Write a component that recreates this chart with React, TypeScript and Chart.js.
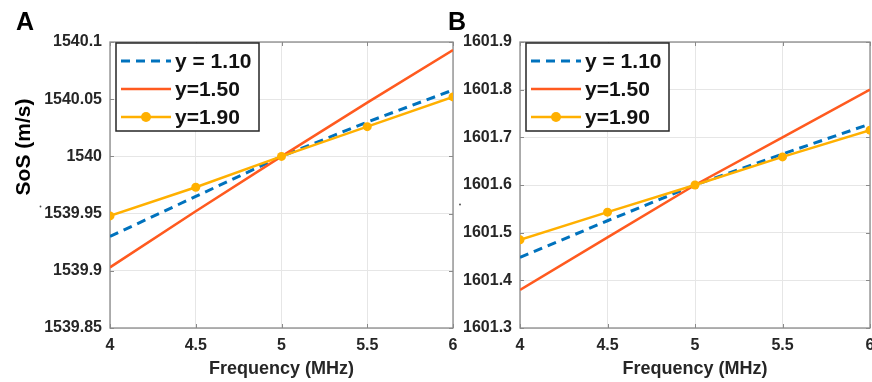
import React, { useEffect, useRef } from "react";
import { Chart, registerables } from "chart.js";

Chart.register(...registerables);

// ---------- data ----------
const freqs = [4, 4.5, 5, 5.5, 6];
const seriesLabels = ["y = 1.10", "y=1.50", "y=1.90"];

const sosA_y110 = [1539.93, 1539.965, 1540.0, 1540.03, 1540.058];
const sosA_y150 = [1539.903, 1539.952, 1540.0, 1540.047, 1540.093];
const sosA_y190 = [1539.948, 1539.973, 1540.0, 1540.026, 1540.052];

const sosB_y110 = [1601.448, 1601.525, 1601.6, 1601.665, 1601.728];
const sosB_y150 = [1601.38, 1601.49, 1601.6, 1601.7, 1601.8];
const sosB_y190 = [1601.485, 1601.543, 1601.6, 1601.659, 1601.715];

const xTitle = "Frequency (MHz)";
const yTitle = "SoS (m/s)";

const COLORS = ["#0072BD", "#FF5A1F", "#FFB000"];
const AXIS = "#8a8a8a";
const GRID = "#e6e6e6";
const TEXT = "#262626";
const FONT = "'Liberation Sans', Arial, Helvetica, sans-serif";

type PanelCfg = {
  letter: string;
  series: number[][];
  yMin: number;
  yMax: number;
  yStep: number;
  left: number;
  width: number;
  yAxisWidth: number;
  padRight: number;
  letterX: number;
  showYTitle: boolean;
  dotX: number;
  dotY: number;
};

const panelPlugin = (cfg: PanelCfg) => ({
  id: "panelDeco" + cfg.letter,
  beforeDatasetsDraw(chart: any) {
    const { ctx, chartArea: ca, scales } = chart;
    ctx.save();
    ctx.strokeStyle = AXIS;
    ctx.lineWidth = 1;
    const tl = 4;
    scales.x.ticks.forEach((t: any) => {
      const px = Math.round(scales.x.getPixelForValue(t.value)) + 0.5;
      ctx.beginPath();
      ctx.moveTo(px, ca.bottom);
      ctx.lineTo(px, ca.bottom - tl);
      ctx.moveTo(px, ca.top);
      ctx.lineTo(px, ca.top + tl);
      ctx.stroke();
    });
    scales.y.ticks.forEach((t: any) => {
      const py = Math.round(scales.y.getPixelForValue(t.value)) + 0.5;
      ctx.beginPath();
      ctx.moveTo(ca.left, py);
      ctx.lineTo(ca.left + tl, py);
      ctx.moveTo(ca.right, py);
      ctx.lineTo(ca.right - tl, py);
      ctx.stroke();
    });
    ctx.lineWidth = 1.3;
    ctx.strokeRect(ca.left, ca.top, ca.right - ca.left, ca.bottom - ca.top);
    ctx.restore();
  },
  afterDraw(chart: any) {
    const { ctx, chartArea: ca } = chart;
    ctx.save();
    ctx.fillStyle = "#000";
    ctx.font = `bold 25px ${FONT}`;
    ctx.textAlign = "left";
    ctx.textBaseline = "alphabetic";
    ctx.fillText(cfg.letter, cfg.letterX, 30);
    ctx.fillStyle = TEXT;
    ctx.font = `bold 18px ${FONT}`;
    ctx.textAlign = "center";
    ctx.fillText(xTitle, (ca.left + ca.right) / 2, 374);
    if (cfg.showYTitle) {
      ctx.save();
      ctx.translate(24, 147);
      ctx.rotate(-Math.PI / 2);
      ctx.font = `bold 21px ${FONT}`;
      ctx.fillStyle = "#000";
      ctx.textAlign = "center";
      ctx.textBaseline = "middle";
      ctx.fillText(yTitle, 0, 0);
      ctx.restore();
    }
    ctx.fillStyle = "#444";
    ctx.beginPath();
    ctx.arc(cfg.dotX, cfg.dotY, 0.9, 0, Math.PI * 2);
    ctx.fill();

    const bx = ca.left + 6;
    const by = ca.top + 1;
    const bw = 143;
    const bh = 88;
    ctx.fillStyle = "#fff";
    ctx.fillRect(bx, by, bw, bh);
    ctx.strokeStyle = "#262626";
    ctx.lineWidth = 1.5;
    ctx.strokeRect(bx, by, bw, bh);
    const rows = [18, 46, 74];
    chart.data.datasets.forEach((ds: any, i: number) => {
      const yy = by + rows[i];
      ctx.save();
      ctx.strokeStyle = ds.borderColor;
      ctx.lineWidth = ds.borderWidth;
      ctx.setLineDash(ds.borderDash || []);
      ctx.beginPath();
      ctx.moveTo(bx + 5, yy);
      ctx.lineTo(bx + 55, yy);
      ctx.stroke();
      ctx.restore();
      if (ds.pointRadius > 0) {
        ctx.fillStyle = ds.pointBackgroundColor;
        ctx.beginPath();
        ctx.arc(bx + 30, yy, 5, 0, Math.PI * 2);
        ctx.fill();
      }
      ctx.fillStyle = "#111";
      ctx.font = `bold 21px ${FONT}`;
      ctx.textAlign = "left";
      ctx.textBaseline = "middle";
      ctx.fillText(ds.label, bx + 59, yy + 1);
    });
    ctx.restore();
  },
});

function Panel({ cfg }: { cfg: PanelCfg }) {
  const ref = useRef<HTMLCanvasElement>(null);
  useEffect(() => {
    if (!ref.current) return;
    const dash = [[9, 6], [], []];
    const datasets = cfg.series.map((s, i) => ({
      label: seriesLabels[i],
      data: freqs.map((f, j) => ({ x: f, y: s[j] })),
      borderColor: COLORS[i],
      backgroundColor: COLORS[i],
      borderWidth: i === 0 ? 3 : 2.5,
      borderDash: dash[i],
      pointRadius: i === 2 ? 4.5 : 0,
      pointBackgroundColor: COLORS[i],
      pointBorderWidth: 0,
      tension: 0,
      order: 3 - i,
    }));
    const chart = new Chart(ref.current, {
      type: "line",
      data: { datasets },
      options: {
        animation: false,
        responsive: false,
        devicePixelRatio: 1,
        layout: { padding: { left: 0, right: cfg.padRight, top: 42, bottom: 0 } },
        plugins: { legend: { display: false }, tooltip: { enabled: false } },
        scales: {
          x: {
            type: "linear",
            min: 4,
            max: 6,
            ticks: {
              stepSize: 0.5,
              padding: 8,
              color: TEXT,
              font: { family: FONT, size: 16, weight: "bold" },
              callback: (v: any) => String(Number(Number(v).toFixed(2))),
              maxRotation: 0,
            },
            grid: { color: GRID, drawTicks: false, tickLength: 0 },
            border: { display: false },
            afterFit: (a: any) => {
              a.height = 54;
              a.paddingLeft = 0;
              a.paddingRight = 0;
            },
          },
          y: {
            type: "linear",
            min: cfg.yMin,
            max: cfg.yMax,
            ticks: {
              stepSize: cfg.yStep,
              padding: 8,
              color: TEXT,
              font: { family: FONT, size: 16, weight: "bold" },
              callback: (v: any) => String(Number(Number(v).toFixed(3))),
            },
            grid: { color: GRID, drawTicks: false, tickLength: 0 },
            border: { display: false },
            afterFit: (a: any) => {
              a.width = cfg.yAxisWidth;
              a.paddingTop = 0;
              a.paddingBottom = 0;
            },
          },
        },
      } as any,
      plugins: [panelPlugin(cfg)],
    });
    return () => chart.destroy();
  }, []);
  return (
    <canvas
      ref={ref}
      width={cfg.width}
      height={382}
      style={{ position: "absolute", left: cfg.left, top: 0, width: cfg.width, height: 382 }}
    />
  );
}

const panelA: PanelCfg = {
  letter: "A",
  series: [sosA_y110, sosA_y150, sosA_y190],
  yMin: 1539.85,
  yMax: 1540.1,
  yStep: 0.05,
  left: 0,
  width: 460,
  yAxisWidth: 110,
  padRight: 7,
  letterX: 16,
  showYTitle: true,
  dotX: 40.5,
  dotY: 206.5,
};

const panelB: PanelCfg = {
  letter: "B",
  series: [sosB_y110, sosB_y150, sosB_y190],
  yMin: 1601.3,
  yMax: 1601.9,
  yStep: 0.1,
  left: 440,
  width: 446,
  yAxisWidth: 80,
  padRight: 16,
  letterX: 8,
  showYTitle: false,
  dotX: 20,
  dotY: 204.5,
};

export default function App() {
  return (
    <div
      style={{
        position: "fixed",
        left: 0,
        top: 0,
        width: 872,
        height: 382,
        overflow: "hidden",
        background: "#fff",
      }}
    >
      <Panel cfg={panelA} />
      <Panel cfg={panelB} />
    </div>
  );
}
